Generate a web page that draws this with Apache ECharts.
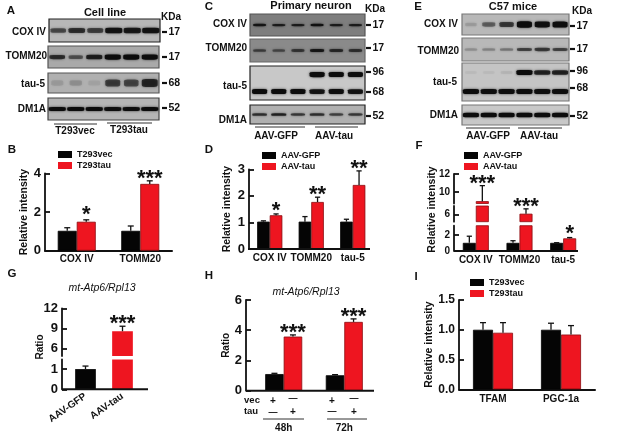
<!DOCTYPE html>
<html><head><meta charset="utf-8">
<style>html,body{margin:0;padding:0;background:#fff}#c{width:634px;height:443px;filter:blur(0.35px)}</style>
<script src="https://cdn.jsdelivr.net/npm/echarts@6/dist/echarts.min.js"></script>
</head><body><div id="c"></div>
<script>
// ---------- blot lane intensities ----------
const laneA_cox  = [.45,.6,.5,.8,.75,.8];
const laneA_tomm = [.6,.4,.7,1,1,1];
const laneA_tau  = [.08,.12,.05,.5,.45,.65];
const laneA_dm1a = [.9,.9,.9,.85,.85,.9];
const laneC_cox  = [.75,.7,.7,.8,.7,.7];
const laneC_tomm = [.45,.4,.5,.75,.6,.55];
const laneC_tau96= [0,0,0,1,.9,.85];
const laneC_tau68= [.9,.9,.9,.8,.85,.8];
const laneC_dm1a = [.6,.7,.55,.6,.5,.55];
const laneE_cox  = [.1,.35,.55,1,.85,.95];
const laneE_tomm = [.15,.2,.25,.5,.55,.5];
const laneE_tau96= [.03,.03,.05,.9,.7,.7];
const laneE_tau68= [.9,.85,.85,.9,.85,.85];
const laneE_dm1a = [.9,.9,.9,.9,.9,.9];
// ---------- bar chart values ----------
const catB = ['COX IV','TOMM20'];
const B_vec = [1.03,1.03], B_tau = [1.5,3.46];
const B_vecErr = [1.19,1.28], B_tauErr = [1.6,3.62];
const B_stars = ['*','***'], B_starAt = [2.06,3.96];
const catD = ['COX IV','TOMM20','tau-5'];
const D_gfp = [1.03,1.03,1.03], D_tau = [1.27,1.77,2.41];
const D_gfpErr = [1.06,1.22,1.12], D_tauErr = [1.32,1.95,2.94];
const D_stars = ['*','**','**'], D_starAt = [1.59,2.21,3.19];
const catF = ['COX IV','TOMM20','tau-5'];
const F_gfp = [1.03,1.03,1.03], F_tau = [8.96,6.09,1.6];
const F_gfpErr = [1.87,1.3,1.05], F_tauErr = [10.7,6.6,1.7];
const F_stars = ['***','***','*'], F_starAt = [11.4,7.3,2.75];
const catG = ['AAV-GFP','AAV-tau'];
const G_vals = [1,8.6], G_errs = [1.15,9.35];
const G_stars = ['','***'], G_starAt = [0,10.4];
const catH = ['48h','72h'];
const H_vec = [1.1,1.02], H_tau = [3.58,4.55];
const H_vecErr = [1.15,1.06], H_tauErr = [3.69,4.75];
const H_stars = ['***','***'], H_starAt = [4.08,5.19];
const catI = ['TFAM','PGC-1a'];
const I_vec = [1,1], I_tau = [.95,.92];
const I_vecErr = [1.12,1.11], I_tauErr = [1.12,1.07];

const FF = '"Liberation Sans",Arial,sans-serif';
const RED = '#ee1520', BLK = '#050505';
const grids=[], xAxes=[], yAxes=[], series=[], legends=[], gfx=[];

function txt(t,x,y,size,o){o=o||{};gfx.push({type:'text',x:x,y:y,rotation:o.rot||0,silent:true,z:5,
  style:{text:t,font:(o.style||'bold')+' '+size+'px '+FF,fill:o.fill||'#111',align:o.align||'center',verticalAlign:'middle'}});}
function line(x1,y1,x2,y2,w,c){gfx.push({type:'line',silent:true,z:5,shape:{x1,y1,x2,y2},style:{stroke:c||'#111',lineWidth:w||1}});}

// ---------- blots ----------
function blot(left,right,top,bottom,bg,border,rows,maxW,thick){
  const gi=grids.length;
  grids.push({left,top,width:right-left,height:bottom-top,show:true,backgroundColor:bg,borderColor:border,borderWidth:1.2,z:1});
  xAxes.push({gridIndex:gi,type:'category',show:false,data:[1,2,3,4,5,6]});
  yAxes.push({gridIndex:gi,type:'category',show:false,inverse:true,data:rows.map(r=>r.kda)});
  rows.forEach(r=>{
    series.push({type:'scatter',xAxisIndex:gi,yAxisIndex:gi,silent:true,symbol:'roundRect',z:2,
      data:r.lanes.map((v,i)=>({value:[i,r.kda],symbolSize:[maxW*(.72+.28*Math.min(v*1.5,1)),Math.max(1.6,thick*(.55+.5*v))],
        itemStyle:{color:'#0c0c0c',opacity:Math.min(1,v*1.15),shadowBlur:2.5,shadowColor:'rgba(0,0,0,.7)'}}))});
  });
}
blot(49,160,19,42,'#b7b7b7','#222',[{kda:'17',lanes:laneA_cox}],17,6);
blot(48,159,46,68,'#a9a9a9','#555',[{kda:'17',lanes:laneA_tomm}],16,5);
blot(48,159,73,93,'#b0b0b0','#555',[{kda:'68',lanes:laneA_tau}],16,9);
blot(48,159,98,120,'#b5b5b5','#444',[{kda:'52',lanes:laneA_dm1a}],17,4);
blot(250,365,14,36,'#7e7e7e','#555',[{kda:'17',lanes:laneC_cox}],13,2.5);
blot(250,365,39,62,'#8a8a8a','#666',[{kda:'17',lanes:laneC_tomm}],14,3.5);
blot(250,365,66,100,'#c8c8c8','#222',[{kda:'96',lanes:laneC_tau96},{kda:'68',lanes:laneC_tau68}],15,5);
blot(250,365,105,124,'#b0b0b0','#222',[{kda:'52',lanes:laneC_dm1a}],15,3);
blot(462,569,14,35,'#b8b8b8','#777',[{kda:'17',lanes:laneE_cox}],15,6);
blot(462,569,38,61,'#b8b8b8','#777',[{kda:'17',lanes:laneE_tomm}],16,4);
blot(462,569,63,101,'#c4c4c4','#777',[{kda:'96',lanes:laneE_tau96},{kda:'68',lanes:laneE_tau68}],16,5);
blot(462,569,105,125,'#c8c8c8','#777',[{kda:'52',lanes:laneE_dm1a}],16,4.5);

// ---------- bars ----------
function errStarSeries(gi,seg,points,stars,barW,fsize){
  const dStar=fsize*.2;
  series.push({type:'custom',xAxisIndex:gi,yAxisIndex:gi,silent:true,z:4,clip:false,
    encode:{x:0,y:1},
    data:points.filter(p=>p.top>=seg.min&&p.top<=seg.max).map(p=>[p.cat,p.top,p.val,p.side]),
    renderItem:(params,api)=>{
      const c=api.coord([api.value(0),api.value(1)]), b=api.coord([api.value(0),api.value(2)]);
      const x=c[0]+api.value(3)*barW/2, w=barW>16?3:2.6;
      return {type:'group',children:[
        {type:'line',shape:{x1:x,y1:b[1],x2:x,y2:c[1]},style:{stroke:'#111',lineWidth:1.3}},
        {type:'line',shape:{x1:x-w,y1:c[1],x2:x+w,y2:c[1]},style:{stroke:'#111',lineWidth:1.3}}]};
    }});
  series.push({type:'custom',xAxisIndex:gi,yAxisIndex:gi,silent:true,z:4,clip:false,
    encode:{x:0,y:1},
    data:stars.filter(s=>s.text&&s.seg===seg).map(s=>[s.cat,s.at,s.text,s.side]),
    renderItem:(params,api)=>{
      const c=api.coord([api.value(0),api.value(1)]);
      return {type:'text',style:{text:stars.filter(s=>s.seg===seg&&s.text)[params.dataIndex].text,
        x:c[0]+api.value(3)*barW/2,y:c[1]+dStar,align:'center',verticalAlign:'middle',
        font:'bold '+fsize+'px '+FF,fill:'#111'}};
    }});
}
function panel(p){
  const segs=p.segs;
  segs.forEach((s,si)=>{
    const gi=grids.length, isBase=si===segs.length-1;
    grids.push({left:p.left,width:p.width,top:s.top,height:s.h});
    xAxes.push({gridIndex:gi,type:'category',data:p.cats,show:isBase,
      axisLine:{show:!p.baseline,lineStyle:{color:'#111',width:2}},axisTick:{show:false},
      axisLabel:{color:'#111',fontFamily:FF,fontWeight:'bold',fontSize:p.catSize||10,margin:p.catMargin||4,rotate:p.catRot||0,interval:0}});
    yAxes.push({gridIndex:gi,type:'value',min:s.min,max:s.max,offset:p.offset||0,
      interval:s.interval,splitLine:{show:false},
      axisLine:{show:true,onZero:false,lineStyle:{color:'#111',width:1.8}},
      axisTick:{show:true,inside:true,length:5,lineStyle:{color:'#111',width:1.8},customValues:s.ticks},
      axisLabel:{color:'#111',fontFamily:FF,fontWeight:'bold',fontSize:p.tickSize,margin:p.tickMargin||4,customValues:s.ticks,
        formatter:p.fmt||(v=>String(v))},
      name:(!p.nameXY&&si===0)?p.name:'',nameLocation:'middle',nameGap:p.nameGap,nameRotate:90,
      nameTextStyle:{color:'#111',fontFamily:FF,fontWeight:'bold',fontSize:p.nameSize||10.5}});
    p.bars.forEach(b=>{
      series.push({type:'bar',name:b.name,xAxisIndex:gi,yAxisIndex:gi,silent:true,z:3,barWidth:p.barW,barGap:'0%',
        data:p.single?null:b.vals.map(v=>v>=s.min?v:null),
        itemStyle:{color:b.color,borderColor:b.color===RED?'#8a0c10':BLK,borderWidth:0.8}});
    });
    if(p.single){
      series.push({type:'bar',xAxisIndex:gi,yAxisIndex:gi,silent:true,z:3,barWidth:p.barW,
        data:p.single.vals.map((v,i)=>v>=s.min?{value:v,itemStyle:{color:p.single.colors[i],borderWidth:0}}:null)});
    }
    const pts=[], sts=[];
    if(p.single){ p.single.vals.forEach((v,i)=>pts.push({cat:i,top:p.single.errs[i],val:v,side:0})); }
    else p.bars.forEach((b,k)=>b.vals.forEach((v,i)=>pts.push({cat:i,top:b.errs[i],val:v,side:k===0?-1:1})));
    (p.stars||[]).forEach((t,i)=>{ if(t&&p.starSeg(i)===si) sts.push({cat:i,at:p.starAt[i],text:t,side:p.single?0:1,seg:s}); });
    errStarSeries(gi,s,pts,sts,p.barW,p.starSize||22);
  });
  if(p.baseline){const b=segs[segs.length-1];line(p.baseline[0],b.top+b.h,p.baseline[1],b.top+b.h,2);}
  if(p.nameXY) txt(p.name,p.nameXY[0],p.nameXY[1],p.nameSize||10.5,{rot:Math.PI/2});
  if(p.legend) legends.push({orient:'vertical',left:p.legend[0],top:p.legend[1],itemWidth:14,itemHeight:7,itemGap:p.legendGap||2,icon:'rect',
    data:p.bars.map(b=>b.name),selectedMode:false,padding:0,
    itemStyle:{borderWidth:0},textStyle:{color:'#111',fontFamily:FF,fontWeight:'bold',fontSize:9}});
}
panel({cats:catB,left:45,width:127,barW:19,tickSize:13,name:'Relative intensity',nameGap:10,
  segs:[{min:0,max:4,interval:2,top:173.5,h:77.2}],
  bars:[{name:'T293vec',color:BLK,vals:B_vec,errs:B_vecErr},{name:'T293tau',color:RED,vals:B_tau,errs:B_tauErr}],
  stars:B_stars,starAt:B_starAt,starSeg:()=>0,legend:[58,150]});
panel({cats:catD,left:249,width:124.5,barW:12.6,tickSize:13,name:'Relative intensity',nameGap:16,baseline:[248,370],
  segs:[{min:0,max:3,interval:1,top:169.3,h:79.7}],
  bars:[{name:'AAV-GFP',color:BLK,vals:D_gfp,errs:D_gfpErr},{name:'AAV-tau',color:RED,vals:D_tau,errs:D_tauErr}],
  stars:D_stars,starAt:D_starAt,starSeg:()=>0,legend:[262,151]});
panel({cats:catF,left:454,width:131,barW:13,tickSize:10,name:'Relative intensity',nameXY:[432,209.5],baseline:[454,578],
  segs:[{min:8.7,max:12,top:174,h:29.5,ticks:[10,12]},{min:5.25,max:6.9,top:206,h:15.7,ticks:[6]},{min:0,max:3.2,top:225.7,h:25.3,ticks:[0,2]}],
  bars:[{name:'AAV-GFP',color:BLK,vals:F_gfp,errs:F_gfpErr},{name:'AAV-tau',color:RED,vals:F_tau,errs:F_tauErr}],
  stars:F_stars,starAt:F_starAt,starSeg:i=>i,legend:[464,151]});
panel({cats:catG,left:67,width:74,offset:5,barW:20.7,tickSize:13,name:'Ratio',nameXY:[40,347],nameSize:10,baseline:[62,148],catRot:35,catMargin:6,
  segs:[{min:4.9,max:12,top:308.5,h:47.5,ticks:[6,9,12]},{min:0,max:1.475,top:359.5,h:29.8,ticks:[0,1]}],
  bars:[],single:{vals:G_vals,errs:G_errs,colors:[BLK,RED]},
  stars:G_stars,starAt:G_starAt,starSeg:()=>0});
panel({cats:catH,left:253.4,width:121.2,offset:7.4,barW:18.5,tickSize:13,name:'Ratio',nameGap:11,nameSize:10,baseline:[246,374],catMargin:33,
  segs:[{min:0,max:6,interval:2,top:300,h:90.7}],
  bars:[{name:'vec',color:BLK,vals:H_vec,errs:H_vecErr},{name:'tau',color:RED,vals:H_tau,errs:H_tauErr}],
  stars:H_stars,starAt:H_starAt,starSeg:()=>0});
panel({cats:catI,left:459,width:136,barW:20,tickSize:12,name:'Relative intensity',nameGap:19,fmt:v=>v.toFixed(1),catMargin:5,
  segs:[{min:0,max:1.5,interval:.5,top:300,h:89.3}],
  bars:[{name:'T293vec',color:BLK,vals:I_vec,errs:I_vecErr},{name:'T293tau',color:RED,vals:I_tau,errs:I_tauErr}],
  legend:[470,278]});

// ---------- text & annotation ----------
[['A',11,11],['B',12,150],['C',209,7],['D',209,150],['E',418,7],['F',419,146],['G',12,274],['H',209,276],['I',416,277]]
  .forEach(a=>txt(a[0],a[1],a[2],11.5));
txt('Cell line',105,13,11); txt('Primary neuron',311,6,11); txt('C57 mice',513,7,11);
[['KDa',161,17],['KDa',365,9],['KDa',572,11]].forEach(a=>txt(a[0],a[1],a[2],10,{align:'left'}));
[['COX IV',46,32],['TOMM20',47,56],['tau-5',45,84],['DM1A',46,109],
 ['COX IV',247,24],['TOMM20',247,48],['tau-5',247,86],['DM1A',247,120],
 ['COX IV',458,24],['TOMM20',459,51],['tau-5',457,82],['DM1A',458,115]].forEach(a=>txt(a[0],a[1],a[2],10,{align:'right'}));
[['17',162,32],['17',162,57],['68',162,83],['52',162,108],
 ['17',366,25],['17',366,48],['96',366,72],['68',366,92],['52',366,116],
 ['17',570,26],['17',570,49],['96',570,71],['68',570,88],['52',570,116]].forEach(a=>{
   line(a[1],a[2],a[1]+5,a[2],2.2); txt(a[0],a[1]+6.5,a[2],10.5,{align:'left'});});
[[54,97,124,'T293vec',75,131],[107,152,123,'T293tau',129,130],[255,305,127,'AAV-GFP',276,136],[315,358,127,'AAV-tau',334,136],
 [466,510,128,'AAV-GFP',488,136],[518,562,128,'AAV-tau',539,136]].forEach(a=>{
   line(a[0],a[2],a[1],a[2],1,'#333'); txt(a[3],a[4],a[5],10);});
txt('mt-Atp6/Rpl13',102,288,10.5,{style:'italic'}); txt('mt-Atp6/Rpl13',306,292,10.5,{style:'italic'});
txt('vec',252,400.7,9.5); txt('tau',251,411.7,9.5);
[['+',273,401],['—',293,399],['+',332,401],['—',354,399],['—',273,413],['+',293,412],['—',332,412],['+',354,412]]
  .forEach(a=>txt(a[0],a[1],a[2],a[0]==='+'?10:9));
line(263,419,304,419,1,'#333'); line(327,419,367,419,1,'#333');

const chart=echarts.init(document.getElementById('c'),null,{renderer:'canvas'});
chart.setOption({animation:false,backgroundColor:'#fff',grid:grids,xAxis:xAxes,yAxis:yAxes,series,legend:legends,graphic:{elements:gfx}});
</script></body></html>
